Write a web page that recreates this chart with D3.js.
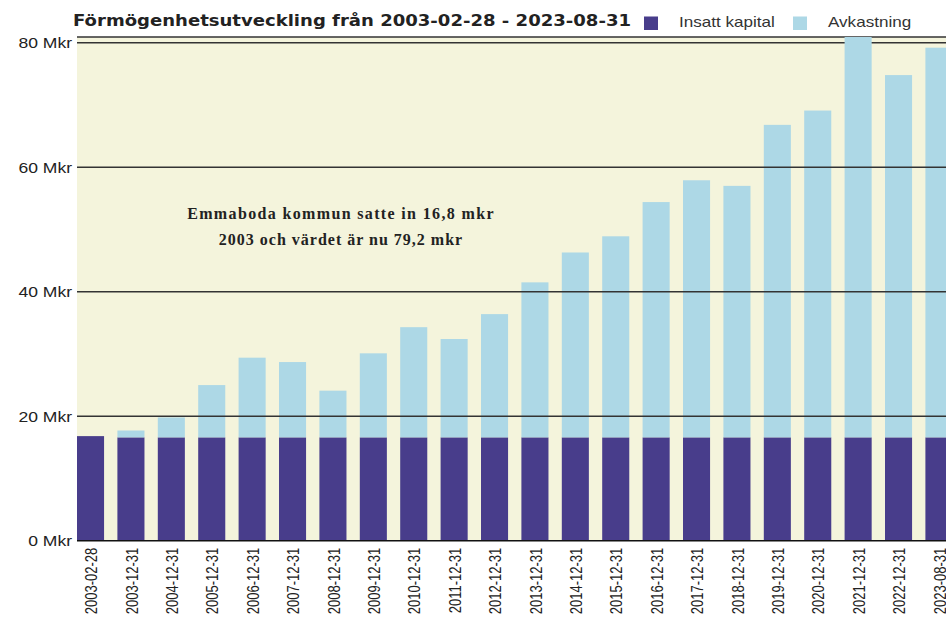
<!DOCTYPE html>
<html><head><meta charset="utf-8">
<script src="https://cdn.jsdelivr.net/npm/d3@7"></script>
<style>html,body{margin:0;padding:0;background:#fff;}svg{display:block;}</style>
</head><body>
<svg id="c" width="946" height="622"></svg>
<script>
const categories = ["2003-02-28","2003-12-31","2004-12-31","2005-12-31","2006-12-31","2007-12-31","2008-12-31","2009-12-31","2010-12-31","2011-12-31","2012-12-31","2013-12-31","2014-12-31","2015-12-31","2016-12-31","2017-12-31","2018-12-31","2019-12-31","2020-12-31","2021-12-31","2022-12-31","2023-08-31"];
const insattKapital = [16.8,16.6,16.6,16.6,16.6,16.6,16.6,16.6,16.6,16.6,16.6,16.6,16.6,16.6,16.6,16.6,16.6,16.6,16.6,16.6,16.6,16.6];
const totalVarde = [16.8,17.7,19.8,25.0,29.4,28.7,24.1,30.1,34.3,32.4,36.4,41.5,46.3,48.9,54.4,57.9,57.0,66.8,69.1,82.0,74.8,79.2];
const yTicks = [0,20,40,60,80];
const title = "Förmögenhetsutveckling från 2003-02-28 - 2023-08-31";
const legendLabels = ["Insatt kapital","Avkastning"];
const note = ["Emmaboda kommun satte in 16,8 mkr","2003 och värdet är nu 79,2 mkr"];

const colCap = "#483D8B", colRet = "#ADD8E6", bg = "#F4F4DC";
const svg = d3.select("#c");
const left = 77, plotTop = 37, bottom = 540.7;
const x = d3.scaleBand().domain(categories).range([left, left + 40.4*21.67]).paddingInner(0.33).paddingOuter(0);
const y = d3.scaleLinear().domain([0,80]).range([bottom, 42.7]);

svg.append("defs").append("clipPath").attr("id","clip")
  .append("rect").attr("x",left).attr("y",plotTop).attr("width",946-left).attr("height",bottom-plotTop);

svg.append("rect").attr("x",left).attr("y",plotTop).attr("width",946-left).attr("height",bottom-plotTop).attr("fill",bg);

// top frame & 80 line (behind bars)
svg.append("line").attr("x1",left).attr("x2",946).attr("y1",plotTop).attr("y2",plotTop).attr("stroke","#333").attr("stroke-width",1.5);
svg.append("line").attr("x1",left).attr("x2",946).attr("y1",y(80)).attr("y2",y(80)).attr("stroke","#333").attr("stroke-width",1.5);

const g = svg.append("g").attr("clip-path","url(#clip)");
const data = categories.map((c,i)=>({c, cap: insattKapital[i], ret: Math.max(0,totalVarde[i]-insattKapital[i])}));
const stack = d3.stack().keys(["cap","ret"])(data);
const colors = {cap: colCap, ret: colRet};
stack.forEach(layer=>{
  g.selectAll(null).data(layer).enter().append("rect")
    .attr("x", d=>x(d.data.c))
    .attr("width", x.bandwidth())
    .attr("y", d=>y(d[1]))
    .attr("height", d=>Math.max(0, y(d[0])-y(d[1])))
    .attr("fill", colors[layer.key]);
});

// grid lines over bars
svg.append("g").selectAll(null).data(yTicks.filter(t=>t>0 && t<80)).enter().append("line")
  .attr("x1",left).attr("x2",946).attr("y1",d=>y(d)).attr("y2",d=>y(d))
  .attr("stroke","#333").attr("stroke-width",1.5);

// y axis labels
const yAxis = d3.axisLeft(y).tickValues(yTicks).tickSize(0).tickPadding(0).tickFormat(d=>d+" Mkr");
const ya = svg.append("g").attr("transform",`translate(${left},0)`).call(yAxis);
ya.select(".domain").remove();
ya.selectAll("text").attr("font-family","Liberation Sans, Arial, sans-serif").attr("font-size",15).attr("fill","#222")
  .attr("x",0).attr("transform","translate(-5,0) scale(1.17,1)");

// x axis
const xAxis = d3.axisBottom(x).tickSize(0).tickPadding(0);
const xa = svg.append("g").attr("transform",`translate(0,${bottom})`).call(xAxis);
xa.select(".domain").attr("d",`M${left},0H946`).attr("stroke","#111").attr("stroke-width",1.5);
xa.selectAll("text")
  .attr("font-family","Liberation Sans, Arial, sans-serif").attr("font-size",13).attr("fill","#222")
  .attr("text-anchor","end").attr("dy","0.35em")
  .attr("transform","translate(1,7) rotate(-90) scale(1,1.25)").attr("x",0).attr("y",0);

// title
svg.append("text").attr("x",73).attr("y",26).text(title)
  .attr("font-family","DejaVu Sans, Verdana, sans-serif").attr("font-weight","bold").attr("font-size",16.5)
  .attr("textLength",558).attr("lengthAdjust","spacingAndGlyphs").attr("fill","#222");

// legend
const leg = [{x:644, c:colCap, t:legendLabels[0], tx:679},{x:793, c:colRet, t:legendLabels[1], tx:828}];
leg.forEach(l=>{
  svg.append("rect").attr("x",l.x).attr("y",16.5).attr("width",14).attr("height",13.5).attr("fill",l.c);
  svg.append("text").attr("transform",`translate(${l.tx},26.5) scale(1.22,1)`).text(l.t)
    .attr("font-family","Liberation Sans, Arial, sans-serif").attr("font-size",14).attr("fill","#333");
});

// annotation
note.forEach((t,i)=>{
  svg.append("text").attr("x",341).attr("y",219+i*26).attr("text-anchor","middle").text(t)
    .attr("font-family","Liberation Serif, Times New Roman, serif").attr("font-weight","bold")
    .attr("font-size",16).attr("letter-spacing",i===0?"1.35px":"1px").attr("fill","#222");
});
</script>
</body></html>
